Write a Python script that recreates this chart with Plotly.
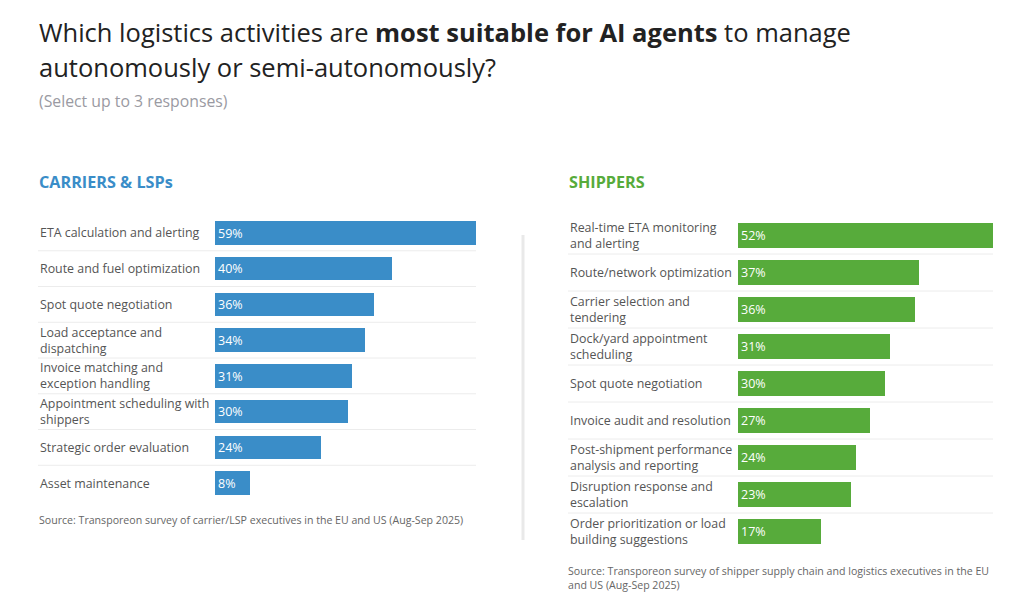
import plotly.graph_objects as go

# survey results, carriers & LSPs
carrier_tasks = [
    'ETA calculation and alerting',
    'Route and fuel optimization',
    'Spot quote negotiation',
    'Load acceptance and<br>dispatching',
    'Invoice matching and<br>exception handling',
    'Appointment scheduling with<br>shippers',
    'Strategic order evaluation',
    'Asset maintenance',
]
carrier_values = [59, 40, 36, 34, 31, 30, 24, 8]

# survey results, shippers
shipper_tasks = [
    'Real-time ETA monitoring<br>and alerting',
    'Route/network optimization',
    'Carrier selection and<br>tendering',
    'Dock/yard appointment<br>scheduling',
    'Spot quote negotiation',
    'Invoice audit and resolution',
    'Post-shipment performance<br>analysis and reporting',
    'Disruption response and<br>escalation',
    'Order prioritization or load<br>building suggestions',
]
shipper_values = [52, 37, 36, 31, 30, 27, 24, 23, 17]

BLUE = '#3a8dc8'
GREEN = '#57ab3b'
LABEL = '#555555'
W, H = 1024, 597


def px(x):
    return x / W


def py(y):
    return 1 - y / H


fig = go.Figure()

fig.add_trace(go.Bar(x=carrier_values, y=carrier_tasks, orientation='h',
                     marker=dict(color=BLUE, line=dict(width=0)),
                     width=0.66,
                     text=[f'{v}%' for v in carrier_values],
                     textposition='inside', insidetextanchor='start',
                     textfont=dict(color='white', size=12.5),
                     xaxis='x', yaxis='y', hoverinfo='x+y'))

fig.add_trace(go.Bar(x=shipper_values, y=shipper_tasks, orientation='h',
                     marker=dict(color=GREEN, line=dict(width=0)),
                     width=0.65,
                     text=[f'{v}%' for v in shipper_values],
                     textposition='inside', insidetextanchor='start',
                     textfont=dict(color='white', size=12.5),
                     xaxis='x2', yaxis='y2', hoverinfo='x+y'))

annotations = []
shapes = []

# row labels and separators for both panels
panels = [
    (carrier_tasks, 'y', 38, 476),
    (shipper_tasks, 'y2', 568, 993),
]
for tasks, yref, left, right in panels:
    for i, task in enumerate(tasks):
        annotations.append(dict(text=task, x=px(left), xref='paper', xanchor='left',
                                y=task, yref=yref, yanchor='middle', align='left',
                                showarrow=False, font=dict(size=12.4, color=LABEL)))
        if i < len(tasks) - 1:
            shapes.append(dict(type='line', xref='paper', x0=px(left), x1=px(right),
                               yref=yref, y0=i + 0.5, y1=i + 0.5,
                               line=dict(color='#ececec', width=1)))

# titles and headers
annotations += [
    dict(text='Which logistics activities are <b>most suitable for AI agents</b> to manage',
         x=px(37), y=py(32), font=dict(size=25.5, color='#222222')),
    dict(text='autonomously or semi-autonomously?',
         x=px(37), y=py(67), font=dict(size=25.5, color='#222222')),
    dict(text='(Select up to 3 responses)',
         x=px(37), y=py(101), font=dict(size=15.8, color='#9a9aa2')),
    dict(text='<b>CARRIERS & LSPs</b>',
         x=px(37), y=py(182), font=dict(size=16.2, color=BLUE)),
    dict(text='<b>SHIPPERS</b>',
         x=px(567), y=py(182), font=dict(size=16.2, color=GREEN)),
    dict(text='Source: Transporeon survey of carrier/LSP executives in the EU and US (Aug-Sep 2025)',
         x=px(37), y=py(520), font=dict(size=10.6, color='#666666')),
    dict(text='Source: Transporeon survey of shipper supply chain and logistics executives in the EU<br>and US (Aug-Sep 2025)',
         x=px(566), y=py(578), align='left', font=dict(size=10.6, color='#666666')),
]
for a in annotations[-7:]:
    a.update(xref='paper', yref='paper', xanchor='left', yanchor='middle', showarrow=False)

# faint divider between the panels
shapes.append(dict(type='line', xref='paper', yref='paper',
                   x0=px(523), x1=px(523), y0=py(235), y1=py(540),
                   line=dict(color='#e9e9e9', width=3)))

fig.update_layout(
    width=W, height=H,
    margin=dict(l=0, r=0, t=0, b=0),
    font_family='Open Sans',
    paper_bgcolor='white',
    plot_bgcolor='white',
    showlegend=False,
    bargap=0,
    xaxis=dict(domain=[px(215), px(476)], range=[0, 59], visible=False),
    yaxis=dict(domain=[py(501), py(215)], range=[len(carrier_tasks) - 0.5, -0.5],
               visible=False),
    xaxis2=dict(domain=[px(738), px(993)], range=[0, 52], visible=False),
    yaxis2=dict(domain=[py(550), py(217)], range=[len(shipper_tasks) - 0.5, -0.5],
                visible=False),
    annotations=annotations,
    shapes=shapes,
)

# the page's default body margin would push the figure off the window
fig.write_html('out.html', config={'displayModeBar': False},
               post_script="document.body.style.margin = '0';")
